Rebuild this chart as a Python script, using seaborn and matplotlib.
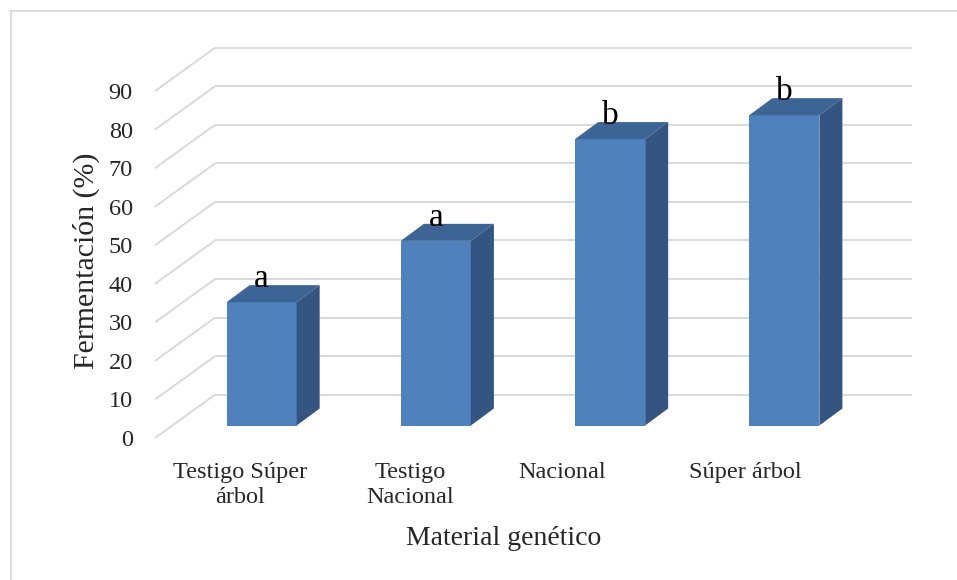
import matplotlib
matplotlib.use("Agg")
import matplotlib.pyplot as plt
import matplotlib.transforms as mtransforms
from matplotlib.patches import Polygon
from matplotlib.lines import Line2D
import seaborn as sns

# Data
materiales = ["Testigo Súper\nárbol", "Testigo\nNacional", "Nacional", "Súper árbol"]
fermentacion = [32.0, 47.9, 74.3, 80.5]
letras = ["a", "a", "b", "b"]
y_ticks = [0, 10, 20, 30, 40, 50, 60, 70, 80, 90]

# Colours
C_FRONT = "#4F81BD"
C_TOP = "#3C6494"
C_SIDE = "#345481"
C_GRID = "#D9D9D9"

W, H = 957, 580
sns.set_theme(style="white")
plt.rcParams["font.family"] = ["Liberation Serif", "DejaVu Serif"]

fig = plt.figure(figsize=(W / 100, H / 100), dpi=100)
fig.patch.set_facecolor("white")
ax = fig.add_axes([155 / W, (H - 438) / H, 757 / W, 391 / H])

# pixel size of one category and of one percent unit
PX_X = 174.25
PX_Y = 3.855
DEPTH = (60 / PX_X, 43.3 / PX_Y)   # floor / wall depth of the oblique view
FRONT = (19.5 / PX_X, 12.5 / PX_Y)  # offset of the bar front faces
SIDE = (23 / PX_X, 17 / PX_Y)       # depth of each bar

n = len(materiales)

# back wall gridlines and the slanted lines on the left wall
for v in y_ticks:
    ax.plot([-0.5, -0.5 + DEPTH[0]], [v, v + DEPTH[1]], color=C_GRID, lw=1.4,
            solid_capstyle="butt", zorder=1, clip_on=False)
    ax.plot([-0.5 + DEPTH[0], n - 0.5 + DEPTH[0]], [v + DEPTH[1]] * 2,
            color=C_GRID, lw=1.4, solid_capstyle="butt", zorder=1, clip_on=False)

# bar front faces
sns.barplot(x=materiales, y=fermentacion, color=C_FRONT, saturation=1,
            width=0.402, linewidth=0, ax=ax, zorder=3)

bars = list(ax.patches)
for p in bars:
    p.set_x(p.get_x() + FRONT[0])
    p.set_y(FRONT[1])
    p.set_zorder(3)

# top and side faces of each bar, plus its letter
for p, letra in zip(bars, letras):
    x0 = p.get_x()
    x1 = x0 + p.get_width()
    y0 = p.get_y()
    y1 = y0 + p.get_height()
    dx, dy = SIDE
    top = Polygon([(x0, y1), (x1, y1), (x1 + dx, y1 + dy), (x0 + dx, y1 + dy)],
                  closed=True, facecolor=C_TOP, edgecolor="none", zorder=3)
    side = Polygon([(x1, y0), (x1 + dx, y0 + dy), (x1 + dx, y1 + dy), (x1, y1)],
                   closed=True, facecolor=C_SIDE, edgecolor="none", zorder=3)
    ax.add_patch(top)
    ax.add_patch(side)
    ax.text((x0 + x1) / 2, y1 + dy - 0.5, letra, ha="center", va="baseline",
            fontsize=24, color="black", zorder=4)

ax.set_xlim(-0.5, -0.5 + 757 / PX_X)
ax.set_ylim(0, 391 / PX_Y)

# axes, ticks and labels
for s in ax.spines.values():
    s.set_visible(False)
ax.set_yticks(y_ticks)
ax.set_yticklabels([str(v) for v in y_ticks], fontsize=17.5)
ax.set_xticks(range(n))
ax.set_xticklabels(materiales, fontsize=17.5, linespacing=1.3)
ax.tick_params(axis="y", length=0, pad=16)
ax.tick_params(axis="x", length=0, pad=17)

label_shift_px = [-2, -6, -29, -20]
for lab, sh in zip(ax.get_xticklabels(), label_shift_px):
    lab.set_transform(lab.get_transform() +
                      mtransforms.ScaledTranslation(sh / 100, 0, fig.dpi_scale_trans))

ax.set_xlabel("Material genético", fontsize=20)
ax.set_ylabel("Fermentación (%)", fontsize=21.5)
ax.xaxis.set_label_coords((503.5 - 155) / 757, (438 - 545) / 391)
ax.xaxis.label.set_va("baseline")
ax.yaxis.set_label_coords((86 - 155) / 757, (438 - 261) / 391)
ax.yaxis.label.set_va("center")

# chart area border (left and top edges)
fig.add_artist(Line2D([10.5 / W, 10.5 / W], [0, 1 - 11 / H], transform=fig.transFigure,
                      color=C_GRID, lw=1.3))
fig.add_artist(Line2D([10 / W, 1], [1 - 11 / H, 1 - 11 / H], transform=fig.transFigure,
                      color=C_GRID, lw=1.3))

fig.savefig("out.png", dpi=100, facecolor="white")
